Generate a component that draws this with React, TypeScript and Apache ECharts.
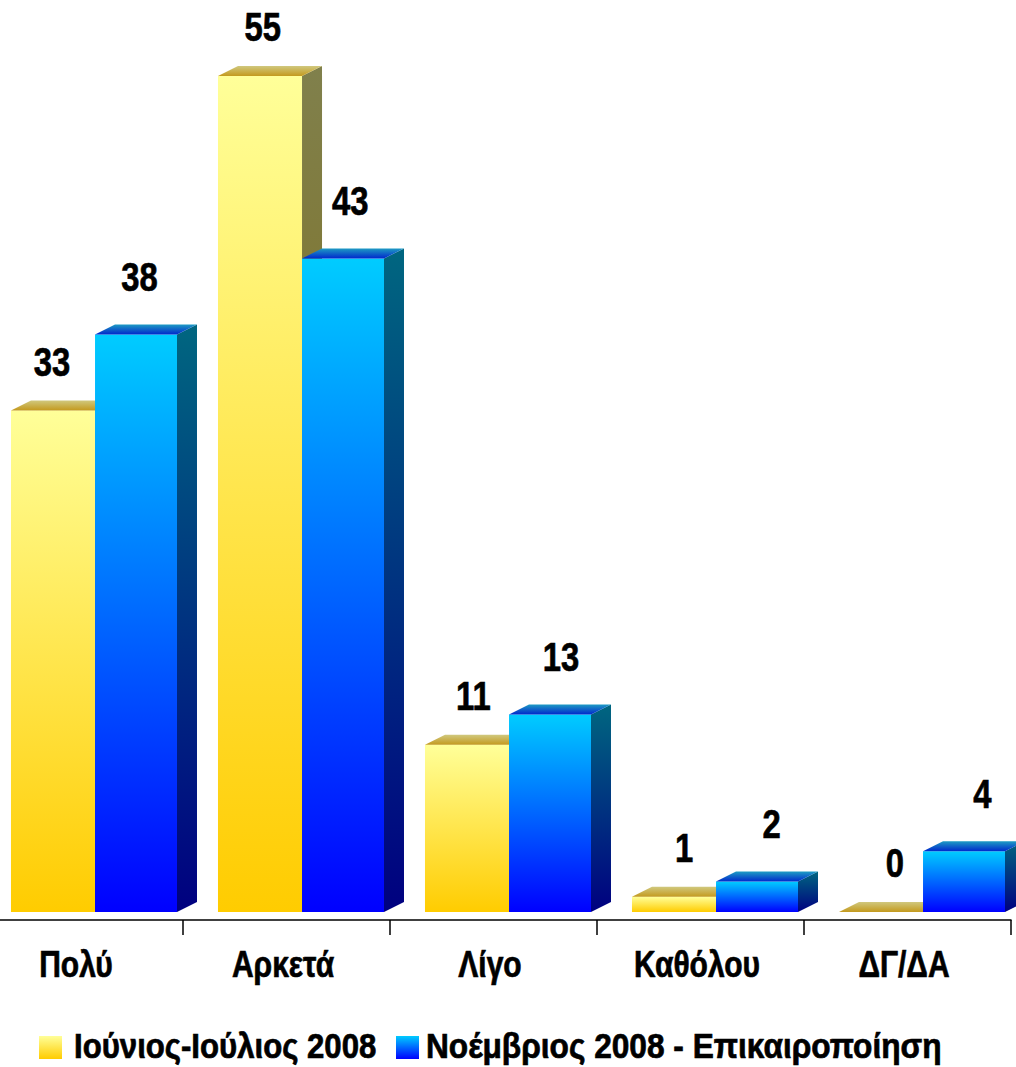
import React, { useEffect, useRef } from "react";
import * as echarts from "echarts";

const categories = ["Πολύ", "Αρκετά", "Λίγο", "Καθόλου", "ΔΓ/ΔΑ"];
const seriesNames = ["Ιούνιος-Ιούλιος 2008", "Νοέμβριος 2008 - Επικαιροποίηση"];
const juneJuly = [33, 55, 11, 1, 0];
const november = [38, 43, 13, 2, 4];

const FONT = "'Liberation Sans', Arial, sans-serif";
const NARROW = 0.8;
const PX_PER_UNIT = 15.2;
const FLOOR_GAP = 8;

const lg = (a: string, b: string) =>
  new echarts.graphic.LinearGradient(0, 0, 0, 1, [
    { offset: 0, color: a },
    { offset: 1, color: b },
  ]);

const palette = [
  {
    front: ["#FFFF99", "#FFCC00"],
    top: ["#D0C87E", "#C49A1E"],
    side: ["#80804C", "#806600"],
    left: -0.331,
    right: 0.075,
    labelDy: 49,
    labelDx: 0,
  },
  {
    front: ["#00CCFF", "#0000FF"],
    top: ["#1E9CC4", "#0028CC"],
    side: ["#006680", "#000080"],
    left: 0.075,
    right: 0.471,
    labelDy: 58,
    labelDx: 3,
  },
];

const DX = 20;
const DY = 10;

function narrowText(text: string, x: number, y: number, size: number, align: string, scale: number) {
  return {
    type: "text",
    x,
    y,
    scaleX: scale,
    style: {
      text,
      x: 0,
      y: 0,
      align,
      verticalAlign: "middle",
      fontFamily: FONT,
      fontWeight: "bold",
      fontSize: size,
      fill: "#000",
      stroke: "#000",
      lineWidth: 0.7,
    },
  };
}

function makeRender(s: number) {
  const p = palette[s];
  return (params: any, api: any) => {
    const idx = api.value(0);
    const val = api.value(1);
    const base = api.coord([idx, 0]);
    const top = api.coord([idx, val]);
    const bw = api.size([1, 0])[0];
    const cx = base[0];
    const x0 = cx + p.left * bw;
    const x1 = cx + p.right * bw;
    const y0 = top[1];
    const yb = base[1];
    const children: any[] = [];
    if (yb - y0 > 0.5) {
      children.push({
        type: "rect",
        shape: { x: x0, y: y0, width: x1 - x0, height: yb - y0 },
        style: { fill: lg(p.front[0], p.front[1]) },
      });
      children.push({
        type: "polygon",
        shape: {
          points: [
            [x1, y0],
            [x1 + DX, y0 - DY],
            [x1 + DX, yb - DY],
            [x1, yb],
          ],
        },
        style: { fill: lg(p.side[0], p.side[1]) },
      });
    }
    children.push({
      type: "polygon",
      shape: {
        points: [
          [x0, y0],
          [x1, y0],
          [x1 + DX, y0 - DY],
          [x0 + DX, y0 - DY],
        ],
      },
      style: { fill: lg(p.top[0], p.top[1]) },
    });
    const fc = (x0 + x1) / 2;
    children.push(
      narrowText(String(val), fc - 2 + 0.018 * fc + p.labelDx, y0 - p.labelDy, 41, "center", NARROW)
    );
    return { type: "group", children };
  };
}

function renderCategory(params: any, api: any) {
  const idx = api.value(0);
  const base = api.coord([idx, 0]);
  return narrowText(categories[idx], base[0] - 3.5, base[1] + 52, 37.5, "center", NARROW);
}

export default function App() {
  const ref = useRef<HTMLDivElement>(null);
  useEffect(() => {
    document.body.style.margin = "0";
    const chart = echarts.init(ref.current!, null, { renderer: "svg" });
    const seriesData = [juneJuly, november];
    const legendY = 1047.5;
    const gridBottom = 147;
    const gridHeight = 1067 - gridBottom;
    const yMin = -FLOOR_GAP / PX_PER_UNIT;
    const yMax = yMin + gridHeight / PX_PER_UNIT;
    chart.setOption({
      animation: false,
      backgroundColor: "#fff",
      grid: {
        left: -24,
        right: 5,
        top: 0,
        bottom: gridBottom,
        containLabel: false,
        outerBoundsMode: "none",
      },
      xAxis: {
        type: "category",
        data: categories,
        axisLine: { onZero: false, lineStyle: { color: "#000", width: 1.5 } },
        axisTick: { show: true, interval: 0, length: 15, lineStyle: { color: "#000", width: 1.5 } },
        axisLabel: { show: false },
      },
      yAxis: { type: "value", min: yMin, max: yMax, show: false, splitLine: { show: false } },
      graphic: [
        {
          type: "rect",
          shape: { x: 39, y: legendY - 11.5, width: 23, height: 23 },
          style: { fill: lg(palette[0].front[0], palette[0].front[1]) },
        },
        narrowText(seriesNames[0], 74, legendY - 2, 35, "left", 0.89),
        {
          type: "rect",
          shape: { x: 396, y: legendY - 11.5, width: 23, height: 23 },
          style: { fill: lg(palette[1].front[0], palette[1].front[1]) },
        },
        narrowText(seriesNames[1], 426, legendY - 2, 35, "left", 0.905),
      ],
      series: [
        ...seriesData.map((arr, s) => ({
          type: "custom",
          name: seriesNames[s],
          clip: false,
          renderItem: makeRender(s),
          itemStyle: { color: lg(palette[s].front[0], palette[s].front[1]) },
          encode: { x: 0, y: 1 },
          data: arr.map((v, i) => [i, v]),
        })),
        {
          type: "custom",
          name: "categories",
          clip: false,
          renderItem: renderCategory,
          encode: { x: 0, y: 1 },
          data: categories.map((_, i) => [i, 0]),
        },
      ],
    });
    return () => chart.dispose();
  }, []);
  return <div ref={ref} style={{ width: 1016, height: 1067 }} />;
}
